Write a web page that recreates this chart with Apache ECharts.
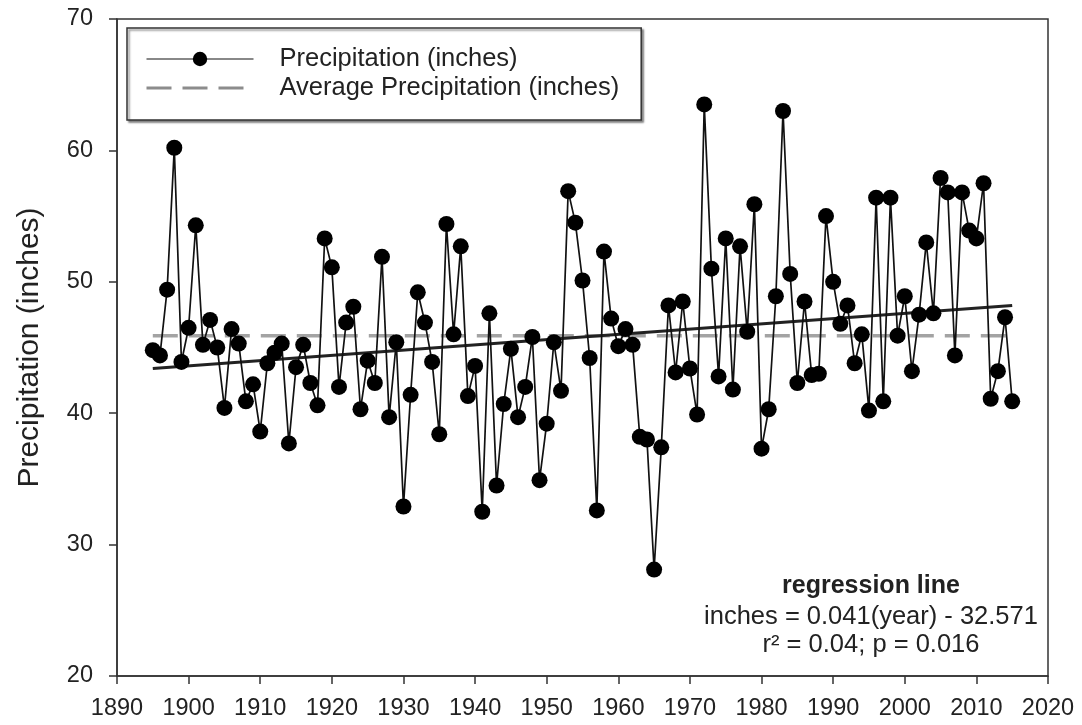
<!DOCTYPE html>
<html>
<head>
<meta charset="utf-8">
<script src="https://cdn.jsdelivr.net/npm/echarts@6/dist/echarts.min.js"></script>
<style>
html,body{margin:0;padding:0;background:#fff;}
#chart{width:1082px;height:725px;}
</style>
</head>
<body>
<div id="chart"></div>
<script>
// ---- data ----
var years = [];
for (var y = 1895; y <= 2015; y++) years.push(y);
var precipitation = [
  44.8, 44.4, 49.4, 60.2, 43.9, 46.5, 54.3, 45.2, 47.1, 45.0,
  40.4, 46.4, 45.3, 40.9, 42.2, 38.6, 43.8, 44.6, 45.3, 37.7,
  43.5, 45.2, 42.3, 40.6, 53.3, 51.1, 42.0, 46.9, 48.1, 40.3,
  44.0, 42.3, 51.9, 39.7, 45.4, 32.9, 41.4, 49.2, 46.9, 43.9,
  38.4, 54.4, 46.0, 52.7, 41.3, 43.6, 32.5, 47.6, 34.5, 40.7,
  44.9, 39.7, 42.0, 45.8, 34.9, 39.2, 45.4, 41.7, 56.9, 54.5,
  50.1, 44.2, 32.6, 52.3, 47.2, 45.1, 46.4, 45.2, 38.2, 38.0,
  28.1, 37.4, 48.2, 43.1, 48.5, 43.4, 39.9, 63.5, 51.0, 42.8,
  53.3, 41.8, 52.7, 46.2, 55.9, 37.3, 40.3, 48.9, 63.0, 50.6,
  42.3, 48.5, 42.9, 43.0, 55.0, 50.0, 46.8, 48.2, 43.8, 46.0,
  40.2, 56.4, 40.9, 56.4, 45.9, 48.9, 43.2, 47.5, 53.0, 47.6,
  57.9, 56.8, 44.4, 56.8, 53.9, 53.3, 57.5, 41.1, 43.2, 47.3,
  40.9
];
var averageYears = [1895, 2015];
var averageValues = [45.9, 45.9];
var regressionYears = [1895, 2015];
var regressionValues = [43.4, 48.2];
var xTicks = {min: 1890, max: 2020, interval: 10};
var yTicks = {min: 20, max: 70, interval: 10};
var annotation = ['regression line', 'inches = 0.041(year) - 32.571', 'r\u00B2 = 0.04; p = 0.016'];

function pairs(xs, vs) { return xs.map(function (x, i) { return [x, vs[i]]; }); }

var FONT = '"Liberation Sans", Arial, sans-serif';
var chart = echarts.init(document.getElementById('chart'), null, {renderer: 'canvas'});
chart.setOption({
  animation: false,
  backgroundColor: '#fff',
  textStyle: {fontFamily: FONT, color: '#222'},
  grid: {
    left: 117, right: 34, top: 19, bottom: 49,
    show: true, borderColor: '#333', borderWidth: 1.5, backgroundColor: 'transparent'
  },
  legend: {
    orient: 'vertical',
    left: 127, top: 28,
    padding: [18, 22, 19, 18],
    itemWidth: 107, itemHeight: 18, itemGap: 3,
    backgroundColor: '#fff',
    borderColor: '#333', borderWidth: 1.5,
    shadowColor: 'rgba(0,0,0,0.45)', shadowBlur: 2, shadowOffsetX: 2, shadowOffsetY: 2,
    textStyle: {fontFamily: FONT, fontSize: 25.5, color: '#222', lineHeight: 26, padding: [0, 0, 0, 21]},
    data: [
      {name: 'Precipitation (inches)', lineStyle: {color: '#888', width: 2}},
      {name: 'Average Precipitation (inches)', itemStyle: {opacity: 0},
        lineStyle: {color: '#8c8c8c', width: 3, type: [25, 11]}}
    ]
  },
  xAxis: {
    type: 'value', min: xTicks.min, max: xTicks.max, interval: xTicks.interval,
    axisLine: {show: true, onZero: false, lineStyle: {color: '#333', width: 1.5}},
    axisTick: {show: true, inside: false, length: 8, lineStyle: {color: '#333', width: 1.5}},
    axisLabel: {fontFamily: FONT, fontSize: 23.5, color: '#222', margin: 21,
      formatter: function (v) { return String(v); }},
    splitLine: {show: false}
  },
  yAxis: {
    type: 'value', min: yTicks.min, max: yTicks.max, interval: yTicks.interval,
    name: 'Precipitation (inches)', nameLocation: 'middle', nameGap: 72, nameRotate: 90,
    nameTextStyle: {fontFamily: FONT, fontSize: 30, color: '#222'},
    axisLine: {show: true, lineStyle: {color: '#333', width: 1.5}},
    axisTick: {show: true, inside: false, length: 8, lineStyle: {color: '#333', width: 1.5}},
    axisLabel: {fontFamily: FONT, fontSize: 23.5, color: '#222', margin: 24,
      formatter: function (v) { return String(v); }},
    splitLine: {show: false}
  },
  series: [
    {
      name: 'Average Precipitation (inches)',
      type: 'line',
      data: pairs(averageYears, averageValues),
      symbol: 'none',
      lineStyle: {color: '#a3a3a3', width: 3.5, type: [25, 11]},
      itemStyle: {color: '#a3a3a3'},
      z: 1
    },
    {
      name: 'Regression',
      type: 'line',
      data: pairs(regressionYears, regressionValues),
      symbol: 'none',
      lineStyle: {color: '#222', width: 3},
      z: 2
    },
    {
      name: 'Precipitation (inches)',
      type: 'line',
      data: pairs(years, precipitation),
      symbol: 'circle', symbolSize: 16,
      itemStyle: {color: '#000'},
      lineStyle: {color: '#111', width: 1.7},
      z: 3
    }
  ],
  graphic: [
    {type: 'text', x: 871, y: 586, style: {text: annotation[0], font: 'bold 25px ' + FONT, fill: '#222', align: 'center', verticalAlign: 'middle'}},
    {type: 'text', x: 871, y: 617, style: {text: annotation[1], font: '25.5px ' + FONT, fill: '#222', align: 'center', verticalAlign: 'middle'}},
    {type: 'text', x: 871, y: 645, style: {text: annotation[2], font: '25.5px ' + FONT, fill: '#222', align: 'center', verticalAlign: 'middle'}}
  ]
});
</script>
</body>
</html>
